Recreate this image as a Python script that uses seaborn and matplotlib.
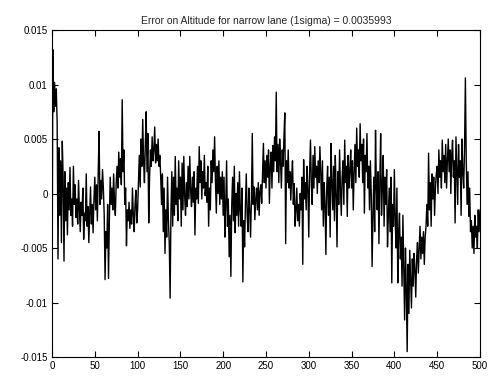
import numpy as np
import pandas as pd
import matplotlib
matplotlib.use("Agg")
import matplotlib.pyplot as plt
import seaborn as sns

# altitude error, in units of 1e-3, one value per sample 0..500
err_0_99 = [
    -11.5, 13.2, 7.5, 10.2, 8.0, 9.6, 6.5, -6.0, 4.2, -2.0,
    3.0, -4.5, 4.8, 1.5, -6.2, 2.0, -2.5, 0.5, -3.8, 1.0,
    -1.5, 2.4, -2.0, -0.5, -3.0, 2.5, -1.0, 0.8, -2.2, -0.5,
    -2.8, 1.2, -1.5, -3.5, -0.8, -2.0, 0.5, -4.2, -1.8, -2.5,
    1.8, -3.0, -1.2, -4.5, -2.0, 0.6, -2.8, -1.0, -3.6, -0.5,
    1.5, -1.5, 0.8, -2.5, 2.0, 5.7, -1.0, 1.2, -0.5, 2.2,
    0.5, -2.0, -7.9, -3.5, -5.0, -1.0, -7.8, -2.5, 1.5, -1.0,
    0.5, -1.5, 1.8, -0.8, -2.0, 1.0, 2.5, 0.5, 3.8, 1.5,
    3.2, 0.8, 8.6, 2.0, 4.0, -1.0, 0.5, -4.8, -1.5, -2.5,
    -0.8, -3.2, -1.5, -2.8, 0.5, -2.0, -3.5, -1.0, 0.3, -2.7,
]
err_100_199 = [
    -1.5, 1.0, 3.5, 0.6, 5.0, 2.5, 6.8, 3.0, 1.0, 4.5,
    7.5, 2.0, 5.5, -2.7, 1.5, 4.0, 2.5, 5.2, 3.0, 4.0,
    6.1, 2.8, 4.5, 3.0, 5.0, 2.5, 3.5, 1.5, -1.0, 1.8,
    -3.5, 0.5, -5.5, -1.5, -4.0, 1.5, -2.5, -4.5, -9.6, -1.5,
    2.0, -3.0, 1.5, -2.0, 3.4, -1.0, 0.5, -2.5, 3.0, -0.5,
    1.5, -3.0, 2.8, -1.5, 3.4, -0.2, -2.0, 1.0, -1.2, 2.5,
    -0.5, 3.4, 0.2, -1.2, 1.5, -0.8, 2.0, -3.8, 0.5, -0.5,
    2.5, -0.9, 4.3, 1.0, 3.0, -0.5, 2.0, 0.5, 3.5, -0.2,
    1.0, -0.8, 2.5, -3.0, 0.5, -1.5, 3.0, 1.0, 4.0, 2.0,
    5.2, 1.0, -1.8, 2.5, 0.0, 3.0, -1.0, 1.5, -0.5, 2.0,
]
err_200_299 = [
    -2.0, 1.5, -4.0, -1.0, 3.0, -3.0, -0.5, -5.8, -2.0, -7.6,
    -1.0, 1.5, -2.5, 2.5, -3.6, 0.0, -2.0, 1.0, -3.0, 2.0,
    -1.5, -3.0, 0.5, -8.1, -2.5, -4.9, -1.0, 1.8, -2.0, -3.5,
    0.5, -1.5, -4.0, -0.5, 5.5, -1.0, 0.6, -2.4, -0.5, 0.5,
    -1.5, 1.0, -2.0, 0.2, 0.8, -0.9, 2.0, 4.6, 1.0, 3.0,
    0.5, 3.5, 1.5, 4.0, -0.9, 2.5, 3.8, 0.5, 4.4, 2.0,
    5.2, 3.0, 9.3, 2.0, 4.5, 1.0, 5.0, 3.0, 0.5, 4.0,
    2.5, 5.2, 7.4, -4.6, 3.0, 1.0, 4.0, 0.5, 2.0, -0.6,
    1.5, 3.0, -1.0, 0.9, -3.0, -1.5, 0.5, -2.5, -1.0, -3.0,
    0.0, -1.5, 1.5, -6.5, 3.1, -0.5, 1.0, -1.5, 2.5, 0.5,
]
err_300_399 = [
    -4.0, 2.0, 4.9, 1.0, -1.0, 3.5, 0.5, 4.3, 1.5, 2.5,
    0.0, 3.0, 1.0, 4.3, 2.0, -1.5, 3.0, -3.0, 1.0, -1.0,
    -5.6, 0.5, 2.5, -2.0, 1.5, -4.0, 4.6, 1.0, -1.5, 2.5,
    -2.5, 3.5, 0.0, -4.9, 2.0, -1.0, 4.0, 0.5, -2.0, 1.5,
    3.0, -1.0, 4.9, 1.0, 2.5, -2.1, 3.5, 0.5, 2.0, 4.0,
    0.5, 3.0, -1.5, 2.0, 4.5, 1.0, 6.0, 2.5, 4.0, 1.5,
    6.4, 3.0, 4.5, 1.0, 5.0, -1.8, 3.5, 2.0, 5.5, 0.5,
    2.5, -1.5, 3.0, 0.0, -6.7, -2.0, 1.5, -3.5, 5.8, 0.5,
    -1.5, 2.0, -4.6, 1.0, 5.5, -2.0, 0.5, 3.5, -3.0, 1.5,
    -1.0, 2.2, -4.9, -2.0, 0.5, -3.5, 1.5, -8.2, -1.0, -3.0,
]
err_400_500 = [
    2.2, -2.5, -5.0, 0.5, -8.2, -3.5, -1.8, -6.0, -4.0, -8.5,
    -2.0, -7.0, -11.6, -5.0, -9.0, -14.5, -6.5, -11.0, -5.2, -8.0,
    -10.5, -6.0, -8.5, -5.5, -7.0, -9.5, -6.0, -4.5, -7.3, -5.0,
    -3.0, -6.0, -4.0, -5.5, -3.5, -6.5, -4.0, -3.0, -1.0, -3.0,
    3.7, -1.5, 1.0, -3.0, 1.8, -0.5, 1.5, -2.0, 0.5, 1.8,
    2.5, 0.0, 4.0, 1.5, 3.0, 0.5, 4.9, 2.0, 3.5, 1.0,
    4.5, 0.5, 3.0, 5.0, 2.0, 4.0, 0.0, 3.5, 4.9, 1.5,
    3.0, -2.7, 5.2, 2.0, -1.0, 4.5, 1.5, 3.0, -2.0, 5.0,
    2.0, 0.5, 4.0, 10.6, 3.0, -1.0, 2.0, -2.1, 0.5, -3.5,
    -2.5, -5.0, -3.0, -5.5, -2.0, -4.0, -3.0, -5.0, -1.5, -3.5,
    -1.5,
]

y_ticks = [-0.015, -0.01, -0.005, 0, 0.005, 0.01, 0.015]
y_labels = ["-0.015", "-0.01", "-0.005", "0", "0.005", "0.01", "0.015"]
x_ticks = [0, 50, 100, 150, 200, 250, 300, 350, 400, 450, 500]
title = "Error on Altitude for narrow lane (1sigma) = 0.0035993"

err = np.array(err_0_99 + err_100_199 + err_200_299 + err_300_399 + err_400_500) * 1e-3
df = pd.DataFrame({"sample": np.arange(len(err)), "error": err})

sns.set_style("ticks")
plt.rcParams["font.family"] = ["Liberation Sans", "DejaVu Sans"]

fig = plt.figure(figsize=(4.93, 3.79), dpi=100)
ax = fig.add_axes([0.1055, 0.058, 0.868, 0.8628])

sns.lineplot(data=df, x="sample", y="error", color="black", linewidth=1.0,
             estimator=None, ax=ax)

ax.set_xlim(0, 500)
ax.set_ylim(-0.015, 0.015)
ax.set_xticks(x_ticks)
ax.set_yticks(y_ticks)
ax.set_yticklabels(y_labels)
ax.set_xlabel("")
ax.set_ylabel("")
ax.set_title(title, fontsize=7.5, pad=4)

for side in ["top", "right", "bottom", "left"]:
    ax.spines[side].set_visible(True)
    ax.spines[side].set_linewidth(0.8)
    ax.spines[side].set_color("black")
ax.tick_params(direction="in", length=4, width=0.8, labelsize=7,
               top=True, right=True, colors="black", pad=3)

fig.savefig("out.png", dpi=100, facecolor="white")
